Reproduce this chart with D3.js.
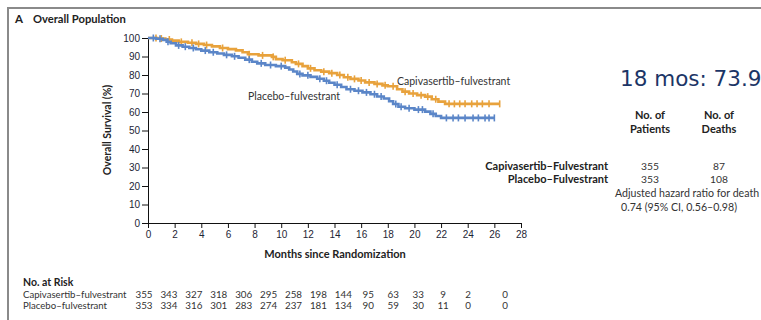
<!DOCTYPE html>
<html>
<head>
<meta charset="utf-8">
<script src="https://cdn.jsdelivr.net/npm/d3@7"></script>
<style>
  html, body { margin: 0; padding: 0; background: #fff; }
  svg { display: block; font-family: Lato, "Open Sans", sans-serif; }
  .axis text { font-size: 10px; fill: #1d2535; }
  .axis path, .axis line { stroke: #111; stroke-width: 1; }
</style>
</head>
<body>
<svg id="chart" width="761" height="320"></svg>
<script>
// Kaplan–Meier step points: [month, overall survival %]
const capiSteps = [
  [0,100],[0.7,99.7],[1.3,99.2],[1.8,98.6],[2.3,97.9],[3.0,97.4],[3.6,96.8],[4.2,96.2],
  [4.8,95.5],[5.4,94.6],[6.0,94.0],[6.6,93.3],[7.1,92.3],[7.5,91.2],[8.3,90.6],[9.3,89.8],
  [9.6,88.6],[10.1,88.0],[10.8,86.9],[11.1,86.0],[11.6,84.8],[12.0,83.6],[12.5,82.6],
  [13.0,81.8],[13.6,81.0],[14.2,80.0],[14.7,78.8],[15.2,77.9],[15.8,77.0],[16.3,76.0],
  [17.0,75.2],[17.6,74.4],[18.0,73.9],[18.7,72.3],[19.1,71.0],[19.6,70.0],[20.2,69.1],
  [20.8,68.3],[21.3,66.9],[21.8,65.6],[22.3,64.4]
];
const capiEnd = 26.4;
const capiCensor = [0.6,1.0,1.6,2.5,3.3,3.8,4.4,5.6,7.6,8.6,9.4,10.3,11.3,12.2,13.2,13.8,
  14.4,15.0,15.5,16.0,16.6,17.2,17.8,18.4,19.3,19.9,20.5,21.0,21.6,22.6,23.0,23.4,23.8,
  24.3,24.7,25.1,25.6,26.4];

const placeboSteps = [
  [0,100],[0.6,99.6],[1.1,99.0],[1.4,98.0],[1.7,97.2],[2.1,96.0],[2.6,95.3],[3.1,94.6],
  [3.6,93.9],[4.0,93.2],[4.6,92.3],[5.2,91.6],[5.7,90.9],[6.3,90.1],[6.8,89.3],[7.3,88.3],
  [7.8,87.2],[8.2,86.3],[8.8,85.4],[9.6,84.8],[10.3,84.0],[10.6,83.0],[10.9,81.9],
  [11.2,80.6],[11.6,79.8],[12.2,79.0],[12.7,78.0],[13.2,76.9],[13.6,75.8],[14.0,74.7],
  [14.5,73.5],[14.9,72.3],[15.5,71.5],[16.1,70.6],[16.7,69.6],[17.2,68.4],[17.7,67.3],
  [18.1,65.8],[18.4,64.3],[18.8,62.8],[19.3,62.0],[20.0,61.3],[20.8,60.2],[21.2,59.0],
  [21.6,57.8],[22.0,56.8]
];
const placeboEnd = 26.0;
const placeboCensor = [0.4,0.9,1.5,2.3,2.8,3.4,4.3,4.9,5.9,6.5,7.6,8.5,9.2,10.0,11.4,12.0,
  12.9,13.4,14.2,15.2,15.8,16.4,17.0,17.5,18.6,19.0,19.6,20.3,20.6,21.4,22.4,22.9,23.3,
  23.8,24.4,24.8,25.3,25.6,26.0];

const xTicks = [0,2,4,6,8,10,12,14,16,18,20,22,24,26,28];
const yTicks = [0,10,20,30,40,50,60,70,80,90,100];

// Numbers at risk at months 0, 2, ..., 28
const riskMonths = [0,2,4,6,8,10,12,14,16,18,20,22,24,26,28];
const capiRisk = [355,343,327,318,306,295,258,198,144,95,63,33,9,2,0];
const placeboRisk = [353,334,316,301,283,274,237,181,134,90,59,30,11,0,0];

const groups = ["Capivasertib–Fulvestrant", "Placebo–Fulvestrant"];
const patients = [355, 353];
const deaths = [87, 108];

const orange = "#e8a23c";
const blue = "#5b86c8";

const svg = d3.select("#chart");

// panel frame
svg.append("path")
  .attr("d", "M8,320 V8 H761")
  .attr("fill", "none").attr("stroke", "#8a8a8a").attr("stroke-width", 2);

svg.append("text").attr("x", 15).attr("y", 23)
  .attr("font-size", 11.5).attr("font-weight", "bold").attr("fill", "#222").text("A");
svg.append("text").attr("x", 33).attr("y", 23)
  .attr("font-size", 11.2).attr("font-weight", "bold").attr("fill", "#222").text("Overall Population");

const x = d3.scaleLinear().domain([0, 28]).range([148, 521]);
const y = d3.scaleLinear().domain([0, 100]).range([223, 38]);

svg.append("g").attr("class", "axis")
  .attr("transform", `translate(0,${y(0)})`)
  .call(d3.axisBottom(x).tickValues(xTicks).tickSize(5).tickSizeOuter(0).tickPadding(3));

svg.append("g").attr("class", "axis")
  .attr("transform", `translate(${x(0)},0)`)
  .call(d3.axisLeft(y).tickValues(yTicks).tickSize(6).tickSizeOuter(0).tickPadding(2));

svg.selectAll(".axis .domain").attr("stroke-width", 1.2);

svg.append("text")
  .attr("transform", `translate(111,130) rotate(-90)`)
  .attr("text-anchor", "middle").attr("font-size", 10.5).attr("font-weight", "bold")
  .attr("fill", "#222").text("Overall Survival (%)");

svg.append("text").attr("x", 335).attr("y", 258)
  .attr("text-anchor", "middle").attr("font-size", 11).attr("font-weight", "bold")
  .attr("fill", "#222").text("Months since Randomization");

function survivalAt(steps, t) {
  let v = steps[0][1];
  for (const s of steps) { if (s[0] <= t) v = s[1]; }
  return v;
}

function drawCurve(steps, end, censor, color) {
  const pts = steps.concat([[end, steps[steps.length - 1][1]]]);
  const line = d3.line().x(d => x(d[0])).y(d => y(d[1])).curve(d3.curveStepAfter);
  svg.append("path").datum(pts)
    .attr("d", line).attr("fill", "none")
    .attr("stroke", color).attr("stroke-width", 2.6);
  svg.append("g").selectAll("line").data(censor).join("line")
    .attr("x1", d => x(d)).attr("x2", d => x(d))
    .attr("y1", d => y(survivalAt(steps, d)) - 3.5)
    .attr("y2", d => y(survivalAt(steps, d)) + 3.5)
    .attr("stroke", color).attr("stroke-width", 1.6);
}

drawCurve(capiSteps, capiEnd, capiCensor, orange);
drawCurve(placeboSteps, placeboEnd, placeboCensor, blue);

svg.append("text").attr("x", 397).attr("y", 85)
  .attr("font-size", 10.5).attr("fill", "#333").text("Capivasertib–fulvestrant");
svg.append("text").attr("x", 248).attr("y", 100)
  .attr("font-size", 10.5).attr("fill", "#333").text("Placebo–fulvestrant");

svg.append("text").attr("x", 620).attr("y", 86)
  .attr("font-family", "'DejaVu Sans', sans-serif")
  .attr("font-size", 21.5)
  .attr("fill", "#1c3566").text("18 mos: 73.9");

// summary table
const colPat = 650, colDeath = 719, rowLabelX = 608;
const hdr = svg.append("g").attr("font-size", 11).attr("font-weight", "bold")
  .attr("fill", "#222").attr("text-anchor", "middle");
hdr.append("text").attr("x", colPat).attr("y", 119).text("No. of");
hdr.append("text").attr("x", colPat).attr("y", 133).text("Patients");
hdr.append("text").attr("x", colDeath).attr("y", 119).text("No. of");
hdr.append("text").attr("x", colDeath).attr("y", 133).text("Deaths");

const rowY = d3.scalePoint().domain(groups).range([170, 183]);
svg.append("g").selectAll("text").data(groups).join("text")
  .attr("x", rowLabelX).attr("y", d => rowY(d)).attr("text-anchor", "end")
  .attr("font-size", 11).attr("font-weight", "bold").attr("fill", "#222").text(d => d);
svg.append("g").selectAll("text").data(patients).join("text")
  .attr("x", colPat).attr("y", (d, i) => rowY(groups[i])).attr("text-anchor", "middle")
  .attr("font-size", 10.3).attr("fill", "#333").text(d => d);
svg.append("g").selectAll("text").data(deaths).join("text")
  .attr("x", colDeath).attr("y", (d, i) => rowY(groups[i])).attr("text-anchor", "middle")
  .attr("font-size", 10.3).attr("fill", "#333").text(d => d);

svg.append("text").attr("x", 615).attr("y", 197)
  .attr("font-size", 10.6).attr("fill", "#333").text("Adjusted hazard ratio for death");
svg.append("text").attr("x", 621).attr("y", 211)
  .attr("font-size", 10.6).attr("fill", "#333").text("0.74 (95% CI, 0.56–0.98)");

// numbers at risk
svg.append("text").attr("x", 23).attr("y", 286)
  .attr("font-size", 10.5).attr("font-weight", "bold").attr("fill", "#222").text("No. at Risk");
const riskRows = [
  { label: "Capivasertib–fulvestrant", values: capiRisk, y: 298 },
  { label: "Placebo–fulvestrant", values: placeboRisk, y: 309 }
];
const xr = d3.scaleLinear().domain([0, 26]).range([144, 468]);
riskRows.forEach(r => {
  svg.append("text").attr("x", 23).attr("y", r.y)
    .attr("font-size", 9.6).attr("fill", "#333").text(r.label);
  svg.append("g").selectAll("text").data(r.values).join("text")
    .attr("x", (d, i) => riskMonths[i] === 28 ? xr(26) + 37 : xr(riskMonths[i]))
    .attr("y", r.y).attr("text-anchor", "middle")
    .attr("font-size", 9.8).attr("fill", "#333").text(d => d);
});
</script>
</body>
</html>
